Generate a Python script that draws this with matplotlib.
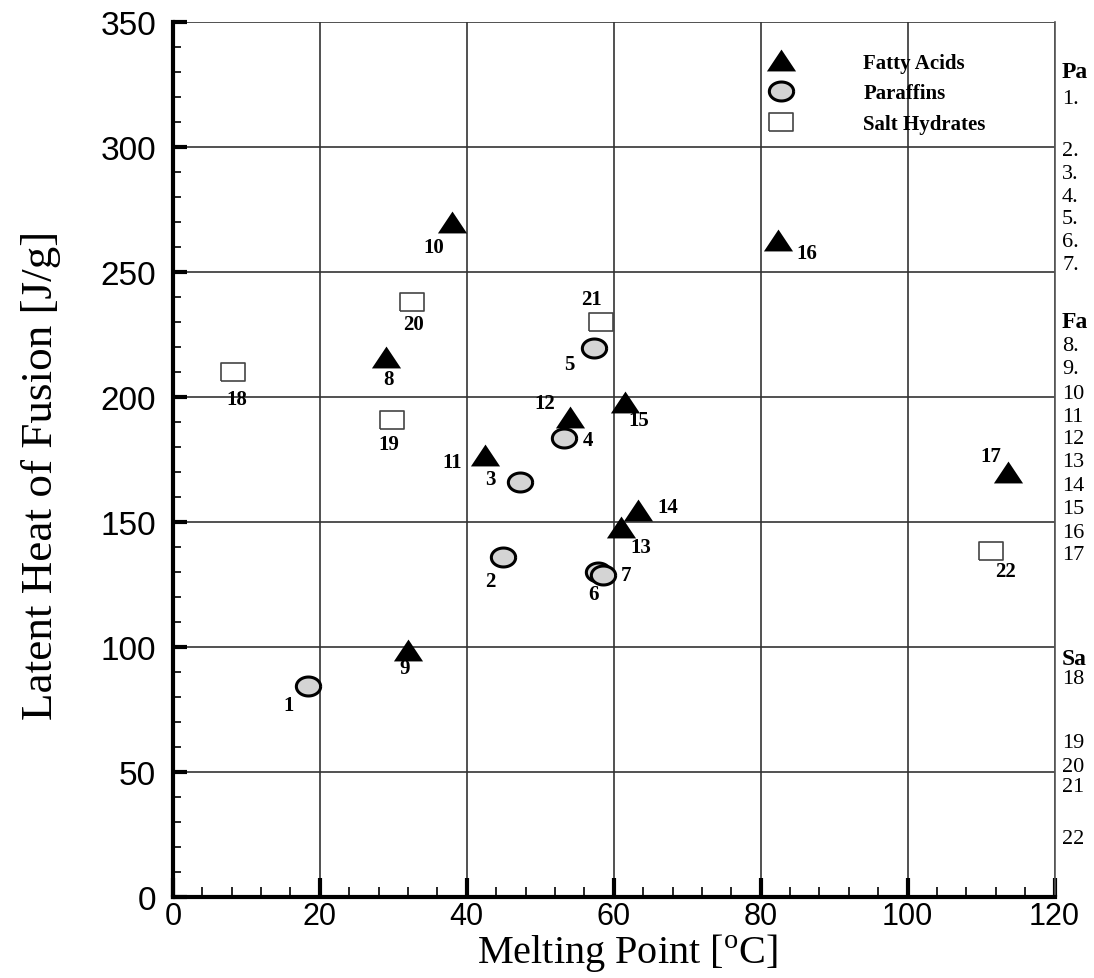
import numpy as np
import matplotlib.pyplot as plt
from matplotlib.lines import Line2D

# fatty acids (8-17)
fa_id = [8, 9, 10, 11, 12, 13, 14, 15, 16, 17]
fa_x = [29.0, 32.0, 38.0, 42.5, 54.0, 61.0, 63.3, 61.5, 82.4, 113.6]
fa_y = [216, 99, 270, 177, 192, 148, 155, 198, 263, 170]

# paraffins (1-7)
par_id = [1, 2, 3, 4, 5, 6, 7]
par_x = [18.4, 44.9, 47.2, 53.2, 57.3, 57.8, 58.6]
par_y = [84.5, 136, 166, 183.6, 219.6, 130, 129]

# salt hydrates (18-22)
salt_id = [18, 19, 20, 21, 22]
salt_x = [8.2, 29.8, 32.5, 58.2, 111.3]
salt_y = [210, 191, 238, 230, 138.4]

# list at the right edge (cut off in the source image)
side_labels = ["Pa", "1.", "2.", "3.", "4.", "5.", "6.", "7.",
               "Fa", "8.", "9.", "10", "11", "12", "13", "14", "15", "16", "17",
               "Sa", "18", "19", "20", "21", "22"]
side_rows = [73, 100, 152, 175, 197, 220, 243, 266,
             322, 347, 370, 395, 418, 440, 463, 487, 510, 533, 556,
             660, 680, 744, 767, 788, 840]

# label offsets in pixels (dx, dy)
offs = {1: (-19, -19), 2: (-12, -24), 3: (-29, 3), 4: (24, -2), 5: (-25, -16),
        6: (-4, -22), 7: (23, 0), 8: (3, -22), 9: (-3, -18), 10: (-18, -25),
        11: (-33, -7), 12: (-25, 14), 13: (20, -20), 14: (30, 3), 15: (14, -18),
        16: (28, -13), 17: (-17, 16), 18: (4, -27), 19: (-3, -24), 20: (2, -22),
        21: (-9, 23), 22: (15, -20)}

serif = ['Liberation Serif', 'DejaVu Serif']
sans = ['Liberation Sans', 'DejaVu Sans']

tri = [(-1, -0.75), (1, -0.75), (0, 0.75), (-1, -0.75)]
t = np.linspace(0, 2 * np.pi, 60)
ell = list(zip(np.cos(t), 0.78 * np.sin(t)))
rect = [(-1, -0.76), (1, -0.76), (1, 0.76), (-1, 0.76), (-1, -0.76)]

fig = plt.figure(figsize=(10.94, 9.79), dpi=100)
ax = fig.add_axes([0.158, 0.0827, 0.806, 0.8938])

ax.set_xlim(0, 120)
ax.set_ylim(0, 350)
ax.set_xticks(np.arange(0, 121, 20))
ax.set_yticks(np.arange(0, 351, 50))
ax.set_xticks(np.arange(0, 121, 4), minor=True)
ax.set_yticks(np.arange(0, 351, 10), minor=True)
ax.grid(True, which='major', color='#333333', linewidth=1.2)
ax.set_axisbelow(True)

ax.tick_params(axis='x', which='major', direction='in', length=14, width=3, labelsize=22, pad=3)
ax.tick_params(axis='x', which='minor', direction='in', length=7, width=1.2)
ax.tick_params(axis='y', which='major', direction='in', length=10, width=3, labelsize=24, pad=12)
ax.tick_params(axis='y', which='minor', direction='in', length=6, width=1.2)
for lab in ax.get_xticklabels() + ax.get_yticklabels():
    lab.set_family(sans)

ax.spines['left'].set_linewidth(3)
ax.spines['bottom'].set_linewidth(3)
ax.spines['right'].set_linewidth(1.2)
ax.spines['right'].set_color('#555555')
ax.spines['top'].set_visible(False)

ax.set_xlabel('Melting Point [$^\\mathregular{o}$C]', family=serif, fontsize=29)
ax.set_ylabel('Latent Heat of Fusion [J/g]', family=serif, fontsize=32.5)
ax.xaxis.label.set_va('center')
ax.xaxis.set_label_coords(0.515, -0.064)
ax.yaxis.label.set_va('center')
ax.yaxis.set_label_coords(-0.149, 0.483)

ax.plot(fa_x, fa_y, linestyle='none', marker=tri, markersize=21,
        color='black', markeredgewidth=0, zorder=3)
ax.plot(par_x, par_y, linestyle='none', marker=ell, markersize=17.5,
        markerfacecolor='#d4d4d4', markeredgecolor='black', markeredgewidth=2.2, zorder=3)
ax.plot(salt_x, salt_y, linestyle='none', marker=rect, markersize=17.5,
        markerfacecolor='white', markeredgecolor='#444444', markeredgewidth=1.2, zorder=3)

for ids, xs, ys in [(fa_id, fa_x, fa_y), (par_id, par_x, par_y), (salt_id, salt_x, salt_y)]:
    for i, x, y in zip(ids, xs, ys):
        ax.annotate(str(i), (x, y), xytext=offs[i], textcoords='offset pixels',
                    ha='center', va='center', family=serif, fontsize=15,
                    fontweight='bold', zorder=4)

handles = [
    Line2D([], [], linestyle='none', marker=tri, markersize=21, color='black', markeredgewidth=0),
    Line2D([], [], linestyle='none', marker=ell, markersize=17.5, markerfacecolor='#d4d4d4',
           markeredgecolor='black', markeredgewidth=2.2),
    Line2D([], [], linestyle='none', marker=rect, markersize=17.5, markerfacecolor='white',
           markeredgecolor='#444444', markeredgewidth=1.2),
]
ax.legend(handles, ['Fatty Acids', 'Paraffins', 'Salt Hydrates'], loc='upper left',
          bbox_to_anchor=(0.672, 0.965), frameon=False,
          prop={'family': serif, 'size': 15, 'weight': 'bold'},
          handlelength=1.5, handletextpad=3.2, labelspacing=0.52, borderpad=0, borderaxespad=0)

for s, py in zip(side_labels, side_rows):
    head = not s[0].isdigit()
    fig.text(1062 / 1094, 1 - py / 979, s, ha='left', va='center', family=serif,
             fontsize=17 if head else 16, fontweight='bold' if head else 'normal')

fig.savefig('out.png', dpi=100)
